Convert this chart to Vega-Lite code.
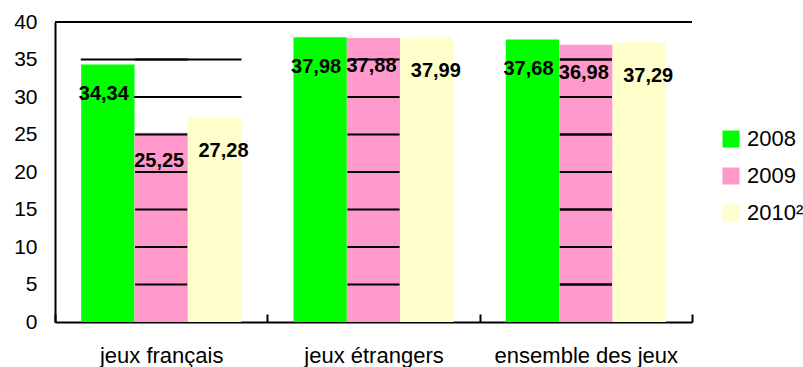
{
  "$schema": "https://vega.github.io/schema/vega-lite/v6.json",
  "autosize": "none",
  "width": 637,
  "height": 300,
  "padding": {"left": 55, "top": 22, "right": 111, "bottom": 45},
  "background": "white",
  "config": {
    "locale": {"number": {"decimal": ",", "thousands": " ", "grouping": [3], "currency": ["", " €"]}},
    "font": "Liberation Sans",
    "view": {"stroke": null, "fill": null}
  },
  "datasets": {
    "parts": [
      {"jeu": "jeux français", "annee": "2008", "part": 34.34},
      {"jeu": "jeux français", "annee": "2009", "part": 25.25},
      {"jeu": "jeux français", "annee": "2010²", "part": 27.28},
      {"jeu": "jeux étrangers", "annee": "2008", "part": 37.98},
      {"jeu": "jeux étrangers", "annee": "2009", "part": 37.88},
      {"jeu": "jeux étrangers", "annee": "2010²", "part": 37.99},
      {"jeu": "ensemble des jeux", "annee": "2008", "part": 37.68},
      {"jeu": "ensemble des jeux", "annee": "2009", "part": 36.98},
      {"jeu": "ensemble des jeux", "annee": "2010²", "part": 37.29}
    ],
    "quadrillage": [
      {"jeu": "jeux français", "part": 5}, {"jeu": "jeux étrangers", "part": 5}, {"jeu": "ensemble des jeux", "part": 5},
      {"jeu": "jeux français", "part": 10}, {"jeu": "jeux étrangers", "part": 10}, {"jeu": "ensemble des jeux", "part": 10},
      {"jeu": "jeux français", "part": 15}, {"jeu": "jeux étrangers", "part": 15}, {"jeu": "ensemble des jeux", "part": 15},
      {"jeu": "jeux français", "part": 20}, {"jeu": "jeux étrangers", "part": 20}, {"jeu": "ensemble des jeux", "part": 20},
      {"jeu": "jeux français", "part": 25}, {"jeu": "jeux étrangers", "part": 25}, {"jeu": "ensemble des jeux", "part": 25},
      {"jeu": "jeux français", "part": 30}, {"jeu": "jeux étrangers", "part": 30}, {"jeu": "ensemble des jeux", "part": 30},
      {"jeu": "jeux français", "part": 35}, {"jeu": "jeux étrangers", "part": 35}, {"jeu": "ensemble des jeux", "part": 35}
    ],
    "quadrillageBarres": [
      {"jeu": "jeux français", "annee": "2008", "part": 35},
      {"jeu": "jeux français", "annee": "2009", "part": 30},
      {"jeu": "jeux français", "annee": "2009", "part": 35},
      {"jeu": "jeux français", "annee": "2010²", "part": 30},
      {"jeu": "jeux français", "annee": "2010²", "part": 35}
    ],
    "ligneHaute": [{"part": 40}]
  },
  "data": {"name": "parts"},
  "layer": [
    {
      "mark": {"type": "bar"},
      "encoding": {
        "x": {
          "field": "jeu",
          "type": "nominal",
          "sort": ["jeux français", "jeux étrangers", "ensemble des jeux"],
          "scale": {"paddingInner": 0, "paddingOuter": 0},
          "axis": {
            "title": null,
            "labelAngle": 0,
            "labelFont": "Liberation Sans",
            "labelFontSize": 22,
            "labelColor": "black",
            "labelLimit": 400,
            "labelPadding": 31,
            "domainColor": "black",
            "domainWidth": 2,
            "ticks": true,
            "tickBand": "extent",
            "tickColor": "black",
            "tickWidth": 2,
            "tickSize": -8,
            "grid": false
          }
        },
        "xOffset": {"field": "annee", "type": "nominal", "scale": {"paddingInner": 0, "paddingOuter": 0.49}},
        "y": {
          "field": "part",
          "type": "quantitative",
          "scale": {"domain": [0, 40], "nice": false},
          "axis": {
            "title": null,
            "tickCount": 8,
            "labelFont": "Liberation Sans",
            "labelFontSize": 21,
            "labelColor": "black",
            "labelPadding": 18,
            "ticks": false,
            "domainColor": "black",
            "domainWidth": 2,
            "grid": false
          }
        },
        "color": {
          "field": "annee",
          "type": "nominal",
          "scale": {"domain": ["2008", "2009", "2010²"], "range": ["#00FF00", "#FF99CC", "#FFFFCC"]},
          "legend": {
            "title": null,
            "orient": "none",
            "legendX": 665,
            "legendY": 106,
            "symbolType": "square",
            "symbolSize": 289,
            "symbolStrokeWidth": 0,
            "labelFont": "Liberation Sans",
            "labelFontSize": 22,
            "labelColor": "black",
            "labelOffset": 5,
            "rowPadding": 15
          }
        }
      }
    },
    {
      "data": {"name": "quadrillage"},
      "mark": {"type": "tick", "orient": "horizontal", "color": "black", "thickness": 2, "size": 52, "opacity": 1, "clip": true},
      "encoding": {
        "x": {"field": "jeu", "type": "nominal", "sort": ["jeux français", "jeux étrangers", "ensemble des jeux"], "bandPosition": 0},
        "y": {"field": "part", "type": "quantitative"}
      }
    },
    {
      "data": {"name": "quadrillage"},
      "transform": [{"filter": "datum.jeu === 'ensemble des jeux'"}],
      "mark": {"type": "tick", "orient": "horizontal", "color": "black", "thickness": 2, "size": 52, "opacity": 1, "clip": true},
      "encoding": {
        "x": {"field": "jeu", "type": "nominal", "sort": ["jeux français", "jeux étrangers", "ensemble des jeux"], "bandPosition": 1},
        "y": {"field": "part", "type": "quantitative"}
      }
    },
    {
      "data": {"name": "quadrillageBarres"},
      "mark": {"type": "tick", "orient": "horizontal", "color": "black", "thickness": 2, "size": 54, "opacity": 1},
      "encoding": {
        "x": {"field": "jeu", "type": "nominal", "sort": ["jeux français", "jeux étrangers", "ensemble des jeux"]},
        "xOffset": {"field": "annee", "type": "nominal"},
        "y": {"field": "part", "type": "quantitative"}
      }
    },
    {
      "data": {"name": "ligneHaute"},
      "mark": {"type": "rule", "color": "black", "strokeWidth": 2},
      "encoding": {"y": {"field": "part", "type": "quantitative"}}
    },
    {
      "transform": [{"filter": "datum.annee === '2008'"}],
      "mark": {"type": "text", "font": "Liberation Sans", "fontWeight": "bold", "fontSize": 20, "color": "black", "baseline": "middle", "dx": -4, "dy": 30},
      "encoding": {
        "x": {"field": "jeu", "type": "nominal", "sort": ["jeux français", "jeux étrangers", "ensemble des jeux"]},
        "xOffset": {"field": "annee", "type": "nominal"},
        "y": {"field": "part", "type": "quantitative"},
        "text": {"field": "part", "type": "quantitative", "format": ".2f"}
      }
    },
    {
      "transform": [{"filter": "datum.annee === '2009'"}],
      "mark": {"type": "text", "font": "Liberation Sans", "fontWeight": "bold", "fontSize": 20, "color": "black", "baseline": "middle", "dx": -2, "dy": 28},
      "encoding": {
        "x": {"field": "jeu", "type": "nominal", "sort": ["jeux français", "jeux étrangers", "ensemble des jeux"]},
        "xOffset": {"field": "annee", "type": "nominal"},
        "y": {"field": "part", "type": "quantitative"},
        "text": {"field": "part", "type": "quantitative", "format": ".2f"}
      }
    },
    {
      "transform": [{"filter": "datum.annee === '2010²'"}],
      "mark": {"type": "text", "font": "Liberation Sans", "fontWeight": "bold", "fontSize": 20, "color": "black", "baseline": "middle", "dx": 9, "dy": 34},
      "encoding": {
        "x": {"field": "jeu", "type": "nominal", "sort": ["jeux français", "jeux étrangers", "ensemble des jeux"]},
        "xOffset": {"field": "annee", "type": "nominal"},
        "y": {"field": "part", "type": "quantitative"},
        "text": {"field": "part", "type": "quantitative", "format": ".2f"}
      }
    }
  ]
}
